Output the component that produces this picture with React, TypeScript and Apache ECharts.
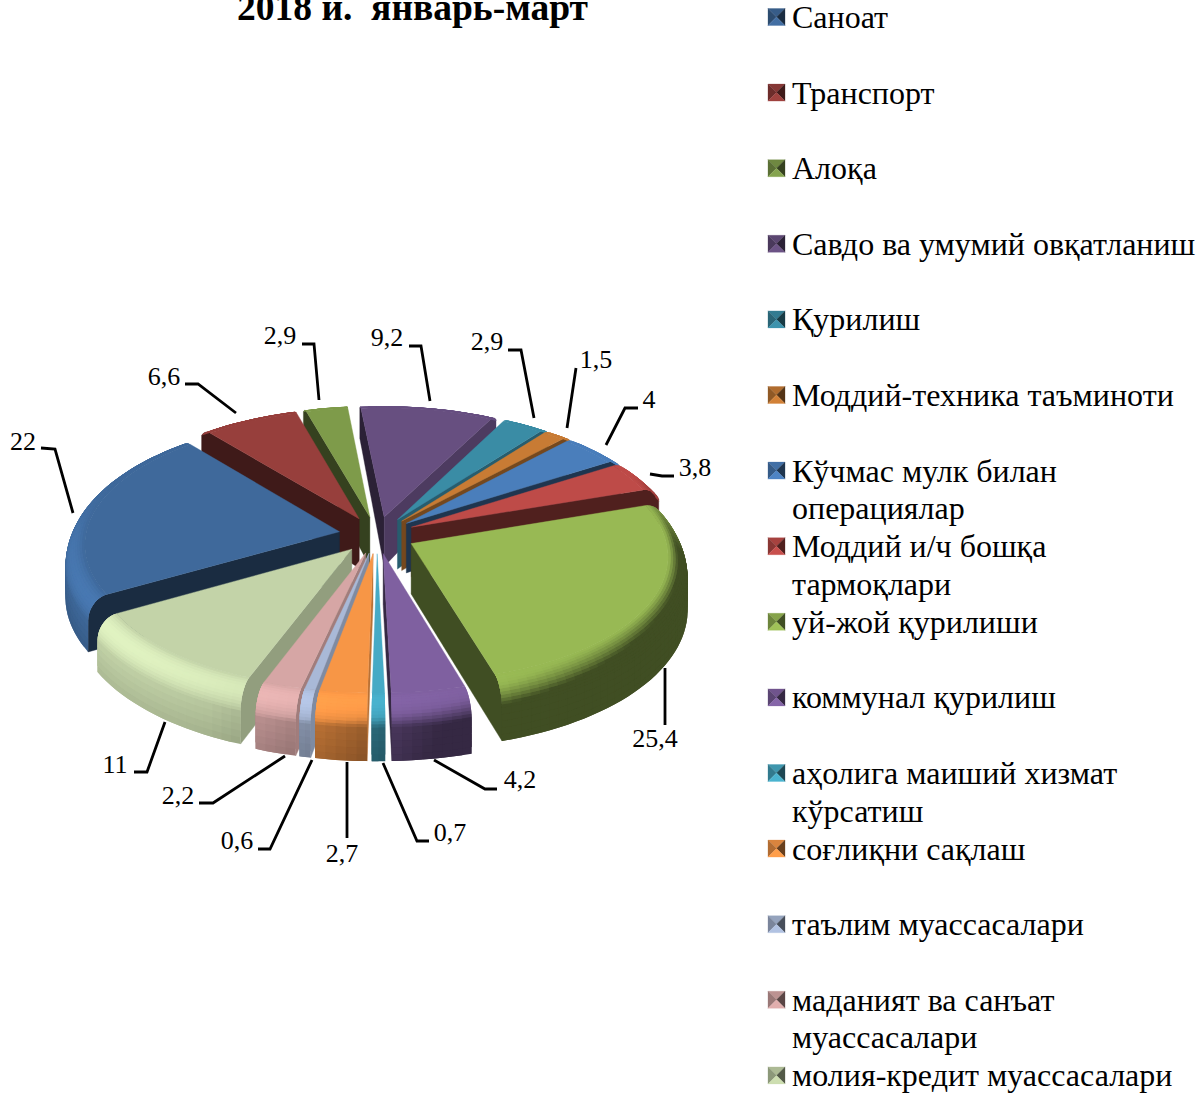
import React, { useEffect, useRef } from "react";
import * as echarts from "echarts";

const titleText = "2018 й.  январь-март";
const categories = [
  "Саноат", "Транспорт", "Алоқа", "Савдо ва умумий овқатланиш", "Қурилиш", "Моддий-техника таъминоти",
  "Кўчмас мулк билан\nоперациялар", "Моддий и/ч бошқа\nтармоқлари", "уй-жой қурилиши", "коммунал қурилиш",
  "аҳолига маиший хизмат\nкўрсатиш", "соғлиқни сақлаш", "таълим муассасалари", "маданият ва санъат\nмуассасалари",
  "молия-кредит муассасалари",
];
const values = [22, 6.6, 2.9, 9.2, 2.9, 1.5, 4, 3.8, 25.4, 4.2, 0.7, 2.7, 0.6, 2.2, 11];
const colors = [
  "#3F699B", "#973F3C", "#7E9B4A", "#674F80", "#3A8CA5", "#C87B34", "#4A7EBB", "#BE4B48",
  "#98B954", "#7F60A0", "#46AAC5", "#F79646", "#A9B9D7", "#D6A6A5", "#C3D3A8",
];
// label text position, then leader line
const labelAt: [number, number][] = [
  [23, 441], [164, 376], [280, 335], [387, 337], [487, 341], [596, 359], [649, 399], [695, 467],
  [655, 738], [520, 779], [450, 832], [342, 853], [237, 840], [178, 795], [115, 764],
];
const leaders: [number, number][][] = [
  [[41, 448], [55, 449], [73, 513]],
  [[185, 384], [198, 384], [236, 413]],
  [[302, 344], [314, 344], [319, 400]],
  [[409, 346], [421, 346], [430, 401]],
  [[508, 350], [521, 350], [534, 418]],
  [[576, 368], [567, 428]],
  [[638, 408], [625, 408], [606, 445]],
  [[674, 476], [662, 476], [650, 474]],
  [[665, 725], [665, 668]],
  [[497, 789], [485, 789], [434, 760]],
  [[429, 841], [417, 841], [383, 763]],
  [[347, 838], [347, 762]],
  [[258, 849], [270, 849], [312, 760]],
  [[199, 803], [213, 803], [285, 756]],
  [[134, 772], [147, 772], [165, 722]],
];

const START = 240.6, CX = 377, CY = 535, R = 273, K = 132, P = 0.1, EXPLODE = 0.14;
const WALL = 50, BEVEL = 20, R0 = 0.93;
const BEVEL_LAYERS = 12, WALL_LAYERS = 5, STEP_DEG = 2;
const SERIF = '"Liberation Serif", "Times New Roman", serif';
const total = values.reduce((a, b) => a + b, 0);
const rad = (d: number) => (d * Math.PI) / 180;

function shade(hex: string, m: number) {
  const n = parseInt(hex.slice(1), 16);
  const c = [(n >> 16) & 255, (n >> 8) & 255, n & 255].map((v) => Math.min(255, Math.round(v * m)));
  return `rgb(${c[0]},${c[1]},${c[2]})`;
}
function lightRatio(theta: number, phi: number, depth: number) {
  const s = Math.sin(rad(phi));
  const front = -Math.cos(rad(theta));
  const x = Math.sin(rad(theta)) * s, y = front * s, up = Math.cos(rad(phi));
  let r = (x * -0.62 + y * 0.42 + up * 0.66) / 0.66;
  if (r > 1) r = 1 + (r - 1) * 0.36;
  r *= 1 - 0.16 * depth;
  r = Math.max(0.42, r);
  if (front < 0) r += (1 - r) * Math.min(1, -front * 2.2);
  return r;
}

function sliceSpan(i: number) {
  let a = START;
  for (let j = 0; j < i; j++) a += (values[j] / total) * 360;
  return [a, a + (values[i] / total) * 360];
}
function paintOrder() {
  const idx = values.map((_, i) => i);
  const front = (i: number) => {
    const [a, b] = sliceSpan(i);
    return -Math.cos(rad((a + b) / 2));
  };
  return idx.sort((p, q) => front(p) - front(q));
}

function buildSlice(i: number, value: number) {
  const [a0] = sliceSpan(i);
  const a1 = a0 + (value / total) * 360;
  const mid = (a0 + a1) / 2;
  const ax = EXPLODE * Math.sin(rad(mid)), ay = -EXPLODE * Math.cos(rad(mid));
  const pt = (theta: number, r: number, down: number): [number, number] => {
    const X = ax + r * Math.sin(rad(theta)), Y = ay - r * Math.cos(rad(theta));
    const f = 1 / (1 - P * Y);
    return [CX + X * R * f, CY + (Y * K + down) * f];
  };
  const base = colors[i];
  const poly = (points: [number, number][], fill: string, stroked = false) => ({
    type: "polygon", silent: true,
    shape: { points },
    style: stroked ? { fill, stroke: fill, lineWidth: 0.4 } : { fill },
  });
  // profile from the flat top to the bottom of the rim
  const profile: { r: number; d: number; phi: number; depth: number }[] = [];
  for (let k = 0; k <= BEVEL_LAYERS; k++) {
    const phi = (k / BEVEL_LAYERS) * 90;
    profile.push({
      r: R0 + (1 - R0) * Math.sin(rad(phi)),
      d: BEVEL * (1 - Math.cos(rad(phi))),
      phi,
      depth: (k / BEVEL_LAYERS) * 0.35,
    });
  }
  for (let k = 1; k <= WALL_LAYERS; k++) {
    const t = k / WALL_LAYERS;
    profile.push({ r: 1, d: BEVEL + (WALL - BEVEL) * t, phi: 90, depth: 0.35 + 0.65 * t });
  }

  const children: any[] = [];
  const wallShade = (normalTheta: number) => {
    const x = Math.sin(rad(normalTheta));
    const t = Math.min(1, Math.max(0, (x - 0.6) / 0.25));
    return 0.42 + 0.33 * t;
  };
  const wall = (theta: number, normal: number) => {
    const pts: [number, number][] = [pt(theta, 0, 0)];
    const front = -Math.cos(rad(theta));
    profile.forEach((p) => {
      if (Math.cos(rad(p.phi)) + Math.sin(rad(p.phi)) * front > -0.02 || front >= 0) pts.push(pt(theta, p.r, p.d));
    });
    const last = pts[pts.length - 1];
    if (front >= 0) pts.push(pt(theta, 0, WALL));
    else pts.push([last[0], last[1] + WALL * 0.6], pt(theta, 0, WALL));
    return poly(pts, shade(base, wallShade(normal)), true);
  };
  const apexX = pt(a0, 0, 0)[0];
  if (pt(a0, 1, 0)[0] < apexX) children.push(wall(a0, a0 - 90));
  if (pt(a1, 1, 0)[0] > apexX) children.push(wall(a1, a1 + 90));

  const steps = Math.max(2, Math.ceil((a1 - a0) / STEP_DEG));
  const at = (s: number) => a0 + ((a1 - a0) * Math.min(s, steps)) / steps;
  for (let l = profile.length - 2; l >= 0; l--) {
    const v = profile[l + 1], u = profile[l], over = profile[Math.max(0, l - 1)];
    for (let s = 0; s < steps; s++) {
      const t0 = at(s), t1 = at(s + 1), tx = at(s + 2);
      const tm = (t0 + t1) / 2;
      const front = -Math.cos(rad(tm));
      const phi = (u.phi + v.phi) / 2;
      if (Math.cos(rad(phi)) + Math.sin(rad(phi)) * front < -0.02) continue;
      const ratio = lightRatio(tm, phi, (u.depth + v.depth) / 2);
      // each quad runs under the next ones, which are painted over it, so no seam shows
      children.push(poly([pt(t0, over.r, over.d), pt(t1, over.r, over.d), pt(tx, over.r, over.d), pt(tx, v.r, v.d), pt(t1, v.r, v.d), pt(t0, v.r, v.d)], shade(base, ratio)));
    }
  }
  const topFace: [number, number][] = [pt(a0, 0, 0)];
  for (let s = 0; s <= steps; s++) topFace.push(pt(at(s), R0, 0));
  children.push(poly(topFace, base, true));
  return { type: "group", children };
}

const LEGEND_STEP = 75.6, LEGEND_Y = 18, LEGEND_X = 768, ICON = 17;
function legendGraphics() {
  const out: any[] = [];
  categories.forEach((name, i) => {
    const lines = name.split("\n");
    const y = LEGEND_Y + LEGEND_STEP * i;
    const l = LEGEND_X, t = y - ICON / 2 - 1, r = l + ICON, b = t + ICON, cx = l + ICON / 2, cy = t + ICON / 2;
    const tri = (pts: number[][], m: number) => ({
      type: "polygon", shape: { points: pts }, style: { fill: shade(colors[i], m), stroke: shade(colors[i], m), lineWidth: 0.3 },
    });
    out.push(tri([[l, t], [r, t], [cx, cy]], 0.88));
    out.push(tri([[l, t], [l, b], [cx, cy]], 0.72));
    out.push(tri([[r, t], [r, b], [cx, cy]], 0.42));
    out.push(tri([[l, b], [r, b], [cx, cy]], 1.05));
    lines.forEach((line, j) => {
      out.push({
        type: "text",
        style: { text: line, x: 792, y: y - 1 + j * 37.5, font: `32px ${SERIF}`, fill: "#000", textAlign: "left", textVerticalAlign: "middle" },
      });
    });
  });
  return out;
}
function labelGraphics() {
  const out: any[] = [];
  values.forEach((v, i) => {
    out.push({
      type: "polyline", shape: { points: leaders[i] },
      style: { stroke: "#000", lineWidth: 2.8, fill: "none" },
    });
    out.push({
      type: "text",
      style: {
        text: String(v).replace(".", ","), x: labelAt[i][0], y: labelAt[i][1],
        font: `26px ${SERIF}`, fill: "#000", textAlign: "center", textVerticalAlign: "middle",
      },
    });
  });
  return out;
}

export default function App() {
  const ref = useRef<HTMLDivElement>(null);
  useEffect(() => {
    const chart = echarts.init(ref.current!, undefined, { renderer: "svg" });
    const order = paintOrder();
    chart.setOption({
      animation: false,
      backgroundColor: "#fff",
      title: {
        text: titleText, left: 407.5, top: -16.5, textAlign: "center",
        textStyle: { fontFamily: SERIF, fontSize: 37.5, fontWeight: "bold", color: "#000" },
      },
      series: [{
        type: "custom",
        coordinateSystem: "none",
        silent: true,
        data: order.map((i) => ({ name: categories[i], value: [i, values[i]] })),
        renderItem: (_p: any, api: any) => buildSlice(api.value(0), api.value(1)),
      }],
      graphic: { elements: [...labelGraphics(), ...legendGraphics()] },
    });
    return () => chart.dispose();
  }, []);
  return <div ref={ref} style={{ position: "fixed", left: 0, top: 0, width: 1204, height: 1095 }} />;
}
